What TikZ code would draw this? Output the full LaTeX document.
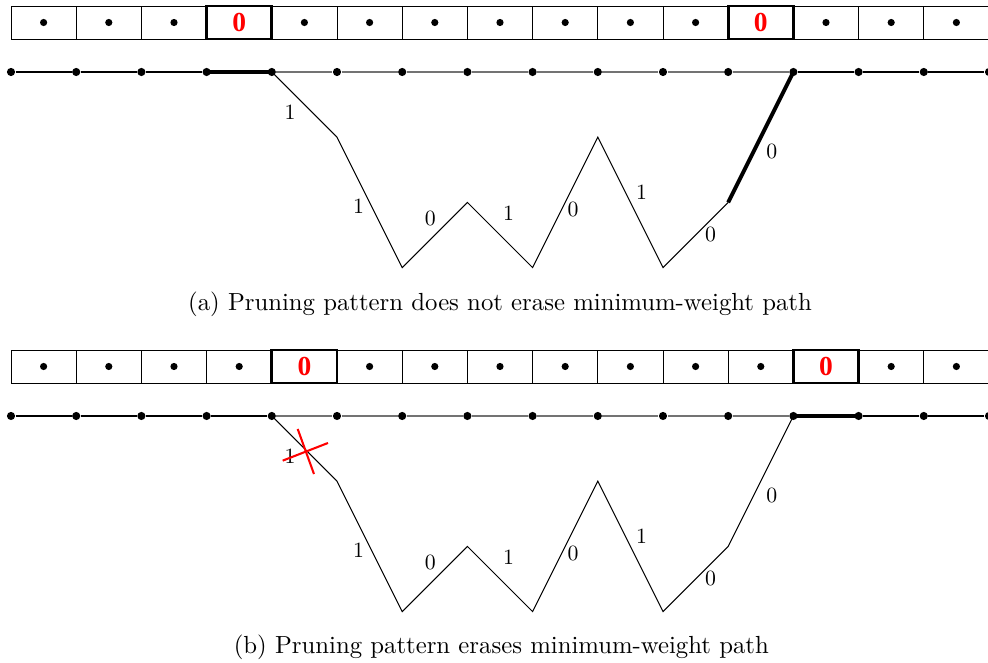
\documentclass[tikz,border=0pt]{standalone}
\usepackage{fontspec}
\newfontfamily\zerofont{Liberation Serif}
\begin{document}
\begin{tikzpicture}[
  cellbox/.style={draw, line width=0.4pt, minimum width=1cm, minimum height=0.506cm, inner sep=0pt, outer sep=0pt},
  zerobox/.style={draw, line width=1.3pt, minimum width=1cm, minimum height=0.506cm, inner sep=0pt, outer sep=0pt, text=red, font=\zerofont\bfseries\fontsize{12}{12}\selectfont},
  celldot/.style={circle, fill, inner sep=0pt, minimum size=0.11cm},
  vdot/.style={circle, fill, inner sep=0pt, minimum size=0.125cm},
  baseline/.style={line width=0.6pt, black},
  midline/.style={line width=0.6pt, black!55},
  pathline/.style={line width=0.45pt},
  boldseg/.style={line width=1.7pt},
  edgelab/.style={font=\fontsize{9.5}{11}\selectfont, inner sep=0pt},
  caption/.style={font=\fontsize{10.8}{13}\selectfont, inner sep=0pt},
  crossline/.style={red, line width=0.9pt}
]
\useasboundingbox (-0.1687,1.104) rectangle (14.985,-9.064);

% ================= panel (a) =================
\foreach \k in {0,...,14} {
  \node[cellbox] (ac\k) at (\k+0.5,0.759) {};
}
\foreach \k in {0,1,2,4,5,6,7,8,9,10,12,13,14} {
  \node[celldot] (acd\k) at (ac\k.center) {};
}
\node[zerobox] (az3) at (ac3.center) {0};
\node[zerobox] (az11) at (ac11.center) {0};

\foreach \k in {0,...,15} {
  \node[vdot] (a\k) at (\k,0) {};
}
\foreach \i/\j in {0/1,1/2,2/3,12/13,13/14,14/15} {
  \draw[baseline] (a\i) -- (a\j);
}
\foreach \i/\j in {4/5,5/6,6/7,7/8,8/9,9/10,10/11,11/12} {
  \draw[midline] (a\i) -- (a\j);
}
\draw[boldseg] (a3.center) -- (a4.center);

\coordinate (ap1) at (5,-1);
\coordinate (ap2) at (6,-3);
\coordinate (ap3) at (7,-2);
\coordinate (ap4) at (8,-3);
\coordinate (ap5) at (9,-1);
\coordinate (ap6) at (10,-3);
\coordinate (ap7) at (11,-2);
\draw[pathline] (a4.center) -- (ap1) -- (ap2) -- (ap3) -- (ap4) -- (ap5) -- (ap6) -- (ap7);
\draw[boldseg] (ap7) -- (a12.center);

\node[edgelab] (al1) at (4.28,-0.62) {1};
\node[edgelab] (al2) at (5.33,-2.06) {1};
\node[edgelab] (al3) at (6.43,-2.25) {0};
\node[edgelab] (al4) at (7.63,-2.17) {1};
\node[edgelab] (al5) at (8.62,-2.11) {0};
\node[edgelab] (al6) at (9.67,-1.85) {1};
\node[edgelab] (al7) at (10.73,-2.50) {0};
\node[edgelab] (al8) at (11.67,-1.22) {0};

\node[caption] (capa) at (7.5,-3.56) {(a) Pruning pattern does not erase minimum-weight path};

% ================= panel (b) =================
\begin{scope}[yshift=-5.276cm]
\foreach \k in {0,...,14} {
  \node[cellbox] (bc\k) at (\k+0.5,0.759) {};
}
\foreach \k in {0,1,2,3,5,6,7,8,9,10,11,13,14} {
  \node[celldot] (bcd\k) at (bc\k.center) {};
}
\node[zerobox] (bz4) at (bc4.center) {0};
\node[zerobox] (bz12) at (bc12.center) {0};

\foreach \k in {0,...,15} {
  \node[vdot] (b\k) at (\k,0) {};
}
\foreach \i/\j in {0/1,1/2,2/3,3/4,13/14,14/15} {
  \draw[baseline] (b\i) -- (b\j);
}
\foreach \i/\j in {4/5,5/6,6/7,7/8,8/9,9/10,10/11,11/12} {
  \draw[midline] (b\i) -- (b\j);
}
\draw[boldseg] (b12.center) -- (b13.center);

\coordinate (bp1) at (5,-1);
\coordinate (bp2) at (6,-3);
\coordinate (bp3) at (7,-2);
\coordinate (bp4) at (8,-3);
\coordinate (bp5) at (9,-1);
\coordinate (bp6) at (10,-3);
\coordinate (bp7) at (11,-2);
\draw[pathline] (b4.center) -- (bp1) -- (bp2) -- (bp3) -- (bp4) -- (bp5) -- (bp6) -- (bp7) -- (b12.center);

\node[edgelab] (bl1) at (4.28,-0.62) {1};
\node[edgelab] (bl2) at (5.33,-2.06) {1};
\node[edgelab] (bl3) at (6.43,-2.25) {0};
\node[edgelab] (bl4) at (7.63,-2.17) {1};
\node[edgelab] (bl5) at (8.62,-2.11) {0};
\node[edgelab] (bl6) at (9.67,-1.85) {1};
\node[edgelab] (bl7) at (10.73,-2.50) {0};
\node[edgelab] (bl8) at (11.67,-1.22) {0};

\coordinate (bx1) at (4.167,-0.685);
\coordinate (bx2) at (4.862,-0.414);
\coordinate (bx3) at (4.397,-0.199);
\coordinate (bx4) at (4.647,-0.890);
\draw[crossline] (bx1) -- (bx2);
\draw[crossline] (bx3) -- (bx4);
\end{scope}

\node[caption] (capb) at (7.52,-8.82) {(b) Pruning pattern erases minimum-weight path};
\end{tikzpicture}
\end{document}
